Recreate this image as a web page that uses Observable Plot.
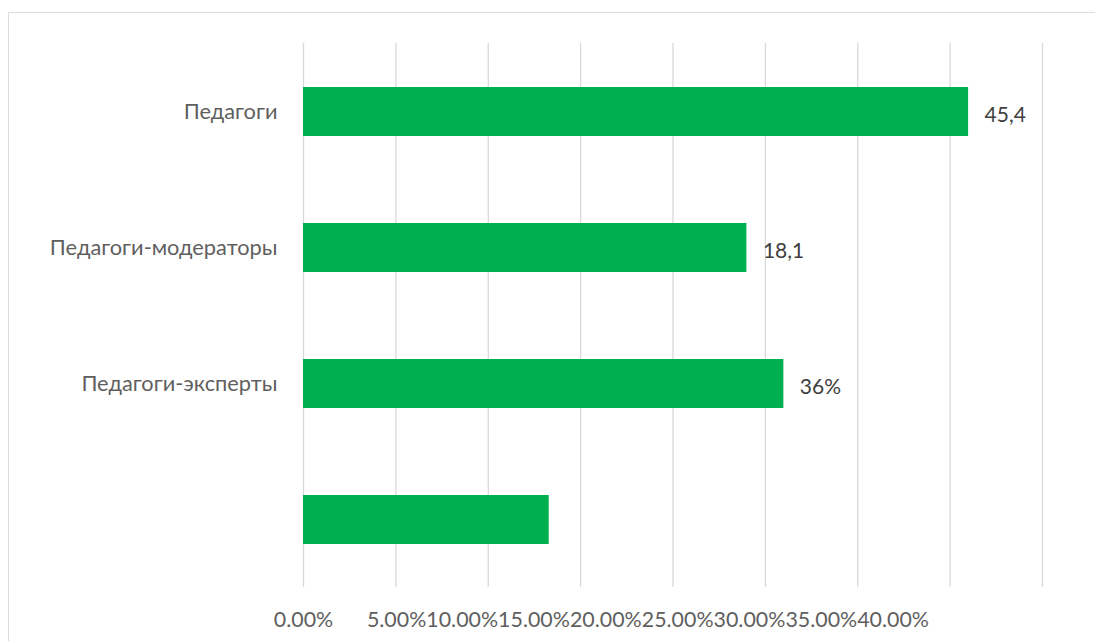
<!DOCTYPE html>
<html>
<head>
<meta charset="utf-8">
<script src="https://cdn.jsdelivr.net/npm/d3@7"></script>
<script src="https://cdn.jsdelivr.net/npm/@observablehq/plot@0.6"></script>
<style>
  html, body { margin: 0; padding: 0; background: #fff; overflow: hidden; }
  #chart { position: relative; width: 1095px; height: 641px; overflow: hidden; }
  #chart .chart-area {
    position: absolute; left: 8px; top: 12px; width: 1200px; height: 800px;
    border: 1.5px solid #dcdcdc; box-sizing: border-box;
  }
  #chart svg { position: absolute; left: 0; top: 0; }
</style>
</head>
<body>
<div id="chart"><div class="chart-area"></div></div>
<script>
// Categories, top to bottom (the last row carries no caption)
const categories = ["Педагоги", "Педагоги-модераторы", "Педагоги-эксперты", ""];
// Bar lengths, as shares of the whole
const shares = [0.36, 0.24, 0.26, 0.133];
// Data-label text written next to each bar
const valueLabels = ["45,4", "18,1", "36%", ""];
// Value-axis ticks and their labels
const xTicks = [0, 0.05, 0.10, 0.15, 0.20, 0.25, 0.30, 0.35, 0.40];
const xTickLabels = ["0.00%", "5.00%", "10.00%", "15.00%", "20.00%", "25.00%", "30.00%", "35.00%", "40.00%"];

const rows = categories.map((c, i) => ({ category: c, share: shares[i], label: valueLabels[i] }));
const tickRows = xTicks.map((t, i) => ({ tick: t, label: xTickLabels[i] }));
// The first tick label sits under its gridline; the rest run together as one string
const firstTick = tickRows.slice(0, 1);
const restTicks = [{ tick: xTicks[1], label: xTickLabels.slice(1).join("") }];

const font = "Lato, 'Open Sans', sans-serif";
const axisGrey = "#5f5f5f";

const chart = Plot.plot({
  width: 1095,
  height: 641,
  marginLeft: 303,
  marginRight: 53,
  marginTop: 43,
  marginBottom: 54,
  style: { fontFamily: font, background: "transparent", overflow: "visible" },
  x: { domain: [0, 0.40], axis: null },
  y: { domain: categories, paddingInner: 0.643, paddingOuter: 0.3215 },
  marks: [
    Plot.gridX({ ticks: xTicks, stroke: "#d9d9d9", strokeOpacity: 1, strokeWidth: 1.3 }),
    Plot.barX(rows, { x: "share", y: "category", fill: "#00B050" }),
    Plot.text(rows, {
      x: "share", y: "category", text: "label",
      textAnchor: "start", dx: 16, dy: 3, fill: "#404040", fontSize: 21
    }),
    Plot.axisY({ tickSize: 0, tickPadding: 26, fontSize: 21.8, color: axisGrey, label: null }),
    Plot.text(firstTick, {
      x: "tick", text: "label", frameAnchor: "bottom", dy: 39,
      textAnchor: "middle", fill: axisGrey, fontSize: 21.4
    }),
    Plot.text(restTicks, {
      x: "tick", text: "label", frameAnchor: "bottom", dy: 39, dx: -29,
      textAnchor: "start", fill: axisGrey, fontSize: 21.4
    })
  ]
});

document.getElementById("chart").appendChild(chart);
</script>
</body>
</html>
